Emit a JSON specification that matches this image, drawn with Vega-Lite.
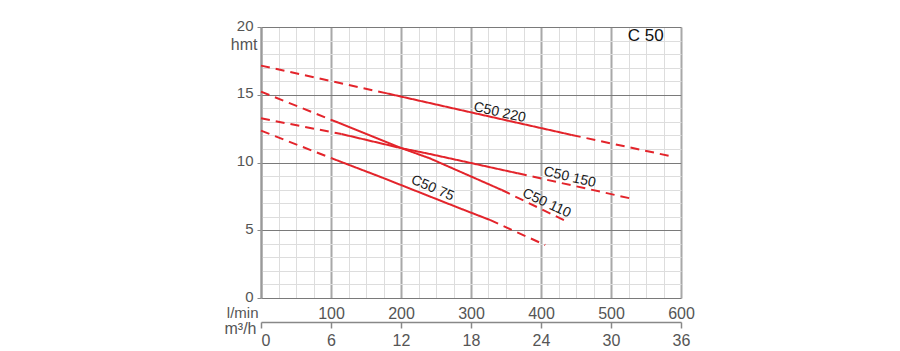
{
  "$schema": "https://vega.github.io/schema/vega-lite/v6.json",
  "width": 420,
  "height": 271,
  "autosize": {"type": "none"},
  "padding": {"left": 261, "top": 27, "right": 219, "bottom": 53},
  "config": {
    "view": {"stroke": null},
    "font": "Liberation Sans",
    "axis": {
      "labelFont": "Liberation Sans",
      "titleFont": "Liberation Sans",
      "labelColor": "#555555",
      "titleColor": "#555555",
      "labelFontSize": 15,
      "titleFontSize": 16,
      "titleFontWeight": "normal",
      "labelFlush": false,
      "labelOverlap": false,
      "labelBound": false
    }
  },
  "resolve": {
    "scale": {"x": "shared", "y": "shared"},
    "axis": {"x": "independent", "y": "independent"}
  },
  "layer": [
    {
      "data": {"values": [
        {"seg": "220a", "style": "dashed", "q": 0, "h": 17.15},
        {"seg": "220a", "style": "dashed", "q": 180, "h": 15.1},
        {"seg": "220b", "style": "solid", "q": 180, "h": 15.1},
        {"seg": "220b", "style": "solid", "q": 300, "h": 13.7},
        {"seg": "220b", "style": "solid", "q": 444, "h": 12.03},
        {"seg": "220c", "style": "dashed", "q": 444, "h": 12.03},
        {"seg": "220c", "style": "dashed", "q": 584, "h": 10.48},
        {"seg": "150a", "style": "dashed", "q": 0, "h": 13.26},
        {"seg": "150a", "style": "dashed", "q": 115, "h": 12.1},
        {"seg": "150b", "style": "solid", "q": 115, "h": 12.1},
        {"seg": "150b", "style": "solid", "q": 201, "h": 11.05},
        {"seg": "150b", "style": "solid", "q": 241, "h": 10.63},
        {"seg": "150b", "style": "solid", "q": 367, "h": 9.2},
        {"seg": "150c", "style": "dashed", "q": 367, "h": 9.2},
        {"seg": "150c", "style": "dashed", "q": 527, "h": 7.36},
        {"seg": "110a", "style": "dashed", "q": 0, "h": 15.23},
        {"seg": "110a", "style": "dashed", "q": 110, "h": 12.95},
        {"seg": "110b", "style": "solid", "q": 110, "h": 12.95},
        {"seg": "110b", "style": "solid", "q": 201, "h": 11.05},
        {"seg": "110b", "style": "solid", "q": 241, "h": 10.31},
        {"seg": "110b", "style": "solid", "q": 344, "h": 7.97},
        {"seg": "110c", "style": "dashed", "q": 344, "h": 7.97},
        {"seg": "110c", "style": "dashed", "q": 440, "h": 5.57},
        {"seg": "75a", "style": "dashed", "q": 0, "h": 12.35},
        {"seg": "75a", "style": "dashed", "q": 101, "h": 10.31},
        {"seg": "75b", "style": "solid", "q": 101, "h": 10.31},
        {"seg": "75b", "style": "solid", "q": 170, "h": 8.95},
        {"seg": "75b", "style": "solid", "q": 284, "h": 6.62},
        {"seg": "75b", "style": "solid", "q": 327, "h": 5.76},
        {"seg": "75c", "style": "dashed", "q": 327, "h": 5.76},
        {"seg": "75c", "style": "dashed", "q": 406, "h": 3.91}
      ]},
      "mark": {"type": "line", "color": "#e3242b", "strokeWidth": 2},
      "encoding": {
        "x": {
          "field": "q", "type": "quantitative",
          "scale": {"domain": [0, 600], "nice": false, "zero": false},
          "axis": {
            "orient": "bottom",
            "values": [0,25,50,75,100,125,150,175,200,225,250,275,300,325,350,375,400,425,450,475,500,525,550,575,600],
            "grid": true, "gridColor": "#dddddd", "gridWidth": 1,
            "labels": false, "ticks": false, "domain": false, "title": null
          }
        },
        "y": {
          "field": "h", "type": "quantitative",
          "scale": {"domain": [0, 20], "nice": false, "zero": false},
          "axis": {
            "orient": "left",
            "values": [0,1,2,3,4,5,6,7,8,9,10,11,12,13,14,15,16,17,18,19,20],
            "grid": true, "gridColor": "#dddddd", "gridWidth": 1,
            "labels": false, "ticks": false, "domain": false, "title": null
          }
        },
        "detail": {"field": "seg", "type": "nominal"},
        "strokeDash": {
          "field": "style", "type": "nominal",
          "scale": {"domain": ["solid", "dashed"], "range": [[1, 0], [9, 6]]},
          "legend": null
        }
      }
    },
    {
      "data": {"values": [
        {"label": "C50 220", "q": 341, "h": 13.68, "angle": 12.5},
        {"label": "C50 150", "q": 441, "h": 8.9, "angle": 13},
        {"label": "C50 110", "q": 408, "h": 6.99, "angle": 25},
        {"label": "C50 75", "q": 245, "h": 8.1, "angle": 23}
      ]},
      "mark": {"type": "text", "fontSize": 14, "color": "#1a1a1a", "font": "Liberation Sans", "align": "center", "baseline": "middle"},
      "encoding": {
        "x": {
          "field": "q", "type": "quantitative",
          "axis": {
            "orient": "bottom",
            "values": [0,100,200,300,400,500,600],
            "grid": true, "gridColor": "#a8a8a8", "gridWidth": 2,
            "labelExpr": "datum.value == 0 ? '' : datum.label",
            "labelFontSize": 16,
            "ticks": false, "domain": false, "labelPadding": 7,
            "title": "l/min", "titleFontSize": 15, "titleX": -3, "titleY": 14.5,
            "titleAlign": "right", "titleBaseline": "middle", "titleAngle": 0
          }
        },
        "y": {
          "field": "h", "type": "quantitative",
          "axis": {
            "orient": "left",
            "values": [0,5,10,15,20],
            "grid": true, "gridColor": "#7a7a7a", "gridWidth": 1.2,
            "ticks": true, "tickSize": 4, "tickColor": "#888888",
            "domain": true, "domainColor": "#999999", "domainWidth": 2,
            "labelPadding": 4, "labelOffset": -2,
            "title": "hmt", "titleX": -4, "titleY": 17, "titleAngle": 0,
            "titleAlign": "right", "titleBaseline": "middle"
          }
        },
        "text": {"field": "label", "type": "nominal"},
        "angle": {"field": "angle", "type": "quantitative", "scale": null}
      }
    },
    {
      "data": {"values": [
        {"label": "C 50", "q": 549.5, "h": 19.3}
      ]},
      "mark": {"type": "text", "fontSize": 17, "color": "#111111", "font": "Liberation Sans", "align": "center", "baseline": "middle"},
      "encoding": {
        "x": {
          "field": "q", "type": "quantitative",
          "axis": {
            "orient": "bottom", "offset": 24,
            "values": [0,100,200,300,400,500,600],
            "grid": false,
            "labelExpr": "format(datum.value * 0.06, 'd')",
            "labelFontSize": 16,
            "labelAlign": {"condition": {"test": "datum.value == 0", "value": "left"}, "value": "center"},
            "ticks": true, "tickSize": 6, "tickColor": "#888888", "tickWidth": 1.5,
            "domain": true, "domainColor": "#888888", "domainWidth": 1.5,
            "labelPadding": 4,
            "title": "m³/h", "titleX": -5, "titleY": 6,
            "titleAlign": "right", "titleBaseline": "middle", "titleAngle": 0
          }
        },
        "y": {"field": "h", "type": "quantitative", "axis": null},
        "text": {"field": "label", "type": "nominal"}
      }
    }
  ]
}
